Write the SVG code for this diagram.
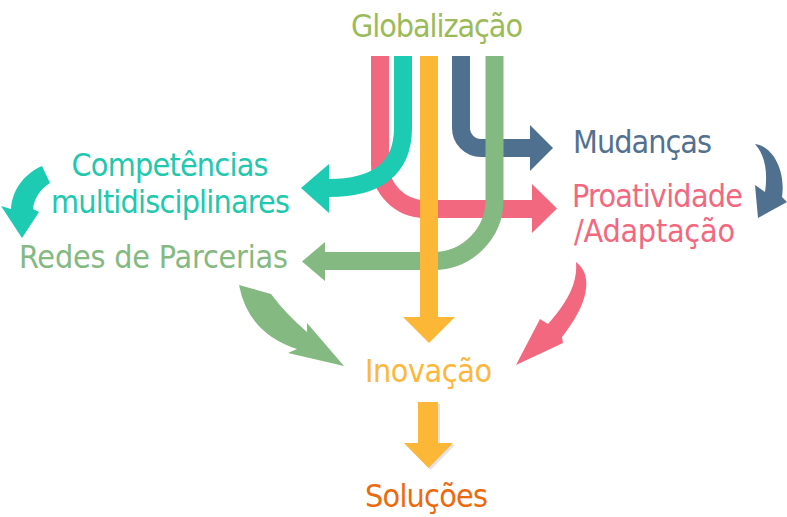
<svg xmlns="http://www.w3.org/2000/svg" width="787" height="517" viewBox="0 0 787 517">
<style>
text{font-family:"DejaVu Sans Condensed","DejaVu Sans",sans-serif;font-stretch:condensed;font-size:32px;text-anchor:middle}
.s{fill:none;stroke-width:18}
</style>
<rect width="787" height="517" fill="#ffffff"/>
<g id="connectors">
<g id="pink-main">
<path class="s" stroke="#f2687f" d="M380,56 V164 A45,45 0 0 0 425,209 H533"/>
<polygon fill="#f2687f" points="532,184 557,208.5 532,233"/>
</g>
<g id="teal-main">
<path class="s" stroke="#1ccbb1" d="M403,56 V128 C403,170 375,188 329,188"/>
<polygon fill="#1ccbb1" points="329,164 301,188 329,213"/>
</g>
<g id="blue-main">
<path class="s" stroke="#50708f" d="M461,56 V128 A20,20 0 0 0 481,148 H531"/>
<polygon fill="#50708f" points="530,125 553,148 530,171"/>
</g>
<g id="green-main">
<path class="s" stroke="#84b982" d="M494.5,56 V200 A61,61 0 0 1 433.5,261 H324"/>
<polygon fill="#84b982" points="325,242 302,261.5 325,281"/>
</g>
<g id="orange-main">
<path class="s" stroke="#fbb735" d="M429,56 V318"/>
<polygon fill="#fbb735" points="403,317 455,317 429,343"/>
</g>
<path id="green-curved" fill="#84b982" d="M239,285 L271,294 Q285,313 307,332 L307,323 L344,366 L288,353 L297,349 Q248,333 239,285 Z"/>
<path id="pink-curved" fill="#f2687f" d="M576,262 C594,275 588,305 562,337 L563,343 L516,365 L540,319 L548,324 C565,305 578,285 576,262 Z"/>
<path id="blue-curved" fill="#50708f" d="M755,144 C772,146 786,170 782,197 L787,202 L758,218 L755,185 L765,192 C768,172 765,155 755,144 Z"/>
<path id="teal-curved" fill="#1ccbb1" d="M42,166 L50,183 C40,189 34,199 33,209 L39,212 L22,238 L1,206 L11,209 C12,190 24,174 42,166 Z"/>
<g id="orange-bottom">
<path fill="#e2e2e2" d="M420,404 H440 V445 H455 L430.5,470 L406,445 H420 Z"/>
<path fill="#fbb735" d="M418,402 H438 V443 H453 L428.5,468 L404,443 H418 Z"/>
</g>
</g>
<g id="globalizacao"><text x="437" y="37" fill="#9bbb59" textLength="172">Globalização</text></g>
<g id="competencias">
<text x="170" y="176" fill="#22c8ad" textLength="197">Competências</text>
<text x="170.5" y="213" fill="#22c8ad" textLength="239">multidisciplinares</text>
</g>
<g id="redes"><text x="153.5" y="268" fill="#84b982" textLength="269">Redes de Parcerias</text></g>
<g id="mudancas"><text x="642.5" y="153" fill="#52718f" textLength="139">Mudanças</text></g>
<g id="proatividade">
<text x="657.5" y="207" fill="#f2687f" textLength="171">Proatividade</text>
<text x="654.5" y="242" fill="#f2687f" textLength="161">/Adaptação</text>
</g>
<g id="inovacao"><text x="428.5" y="382" fill="#fcb73c" textLength="127">Inovação</text></g>
<g id="solucoes"><text x="426.5" y="507" fill="#ec6a0e" textLength="123">Soluções</text></g>
</svg>
